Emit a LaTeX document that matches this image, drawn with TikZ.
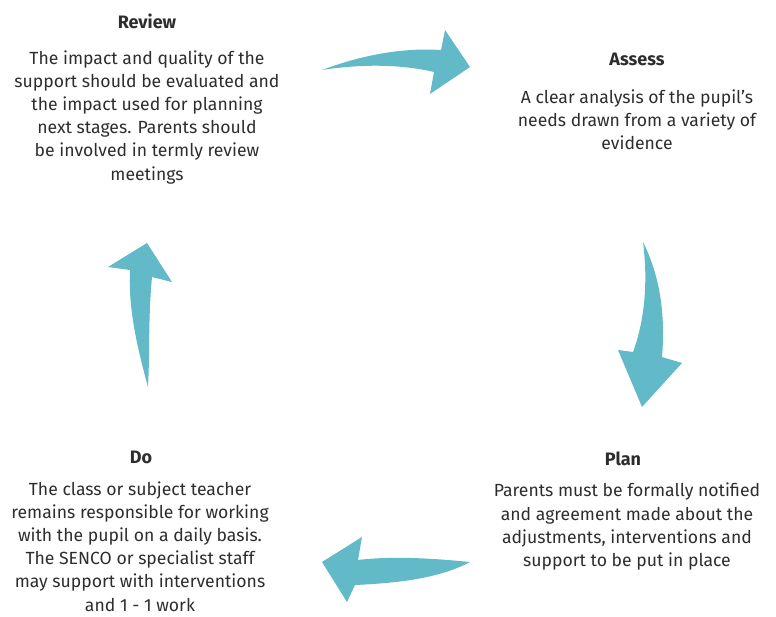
\documentclass[tikz,border=0pt]{standalone}
\usepackage{fontspec}
\setmainfont{Fira Sans}
\definecolor{teal}{RGB}{98,185,199}
\definecolor{ink}{RGB}{45,45,45}
\tikzset{
  ttl/.style={anchor=base, inner sep=0pt, text=ink, font=\fontsize{18}{23}\selectfont\bfseries},
  body/.style={anchor=base, inner sep=0pt, text=ink, align=center, font=\fontsize{17.6}{23.2}\selectfont},
  arr/.style={fill=teal, draw=none}
}
\begin{document}
\begin{tikzpicture}[x=1pt,y=-1pt]
\useasboundingbox (0,0) rectangle (776,616);
% Review
\node[ttl] (revt) at (147,28) {Review};
\node[body] (revb) at (147,180) {The impact and quality of the\\support should be evaluated and\\the impact used for planning\\next stages. Parents should\\be involved in termly review\\meetings};
% Assess
\node[ttl] (asst) at (637,65) {Assess};
\node[body] (assb) at (637,149.5) {A clear analysis of the pupil's\\needs drawn from a variety of\\evidence};
% Plan
\node[ttl] (plant) at (623,465) {Plan};
\node[body] (planb) at (627,566.5) {Parents must be formally notified\\and agreement made about the\\adjustments, interventions and\\support to be put in place};
% Do
\node[ttl] (dot) at (141,463) {Do};
\node[body] (dob) at (140,611) {The class or subject teacher\\remains responsible for working\\with the pupil on a daily basis.\\The SENCO or specialist staff\\may support with interventions\\and 1 - 1 work};
% arrows
\fill[arr] (322,70) .. controls (370,52) and (410,48) .. (441,50) -- (445,30) -- (470,67) -- (430,94) -- (434,72) .. controls (400,64) and (360,64) .. (322,70) -- cycle;
\fill[arr] (643,242) .. controls (662,280) and (665,320) .. (662,357) -- (682,363) -- (642,407) -- (618,350) -- (633,352) .. controls (645,320) and (648,280) .. (643,242) -- cycle;
\fill[arr] (470,562) .. controls (430,558) and (390,556) .. (358,560) -- (362,537) -- (322,562) -- (347,602) -- (355,585) .. controls (400,583) and (440,578) .. (470,562) -- cycle;
\fill[arr] (148,387) .. controls (138,350) and (128,310) .. (130,270) -- (108,267) -- (147,243) -- (172,282) -- (152,277) .. controls (148,320) and (150,350) .. (148,387) -- cycle;
\end{tikzpicture}
\end{document}
